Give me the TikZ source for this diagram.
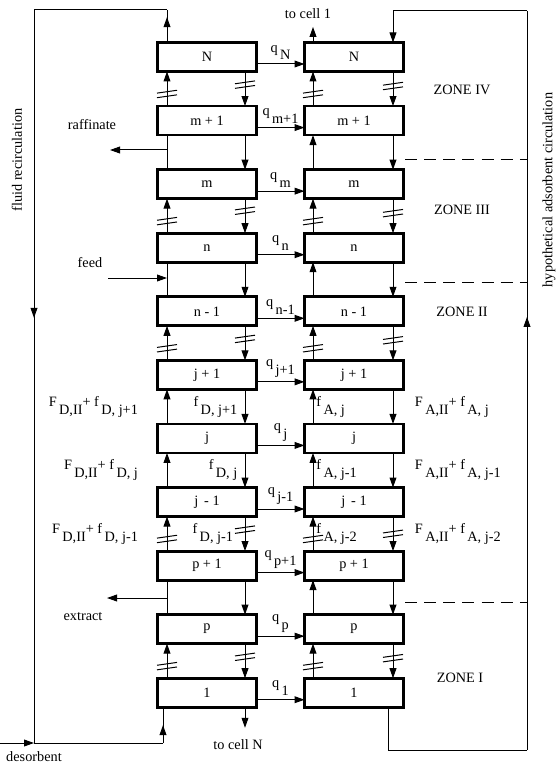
\documentclass[tikz,border=0pt]{standalone}
\usepackage{fontspec}
\setmainfont{Liberation Serif}
\usetikzlibrary{arrows.meta,positioning,decorations.markings}

\newcommand{\lsub}[2]{#1\,\raisebox{-0.55em}{#2}}

\begin{document}
\begin{tikzpicture}[
    x=0.7pt, y=-0.7pt,
    node distance=24.2pt and 33.6pt,
    cell/.style={
        draw,
        line width=2pt,
        outer sep=0pt,
        minimum width=69.3pt,
        minimum height=20.3pt
    },
    flowline/.style={line width=0.7pt},
    arrow/.style={flowline, -{Triangle[length=7pt,width=4.8pt]}},
    midarrow/.style={
        flowline,
        decoration={markings,
            mark=at position #1 with {\arrow{Triangle[length=7pt,width=4.8pt]}}},
        postaction={decorate}
    },
    zoneline/.style={line width=0.7pt, dash pattern=on 8.4pt off 5pt},
    qlabel/.style={above, inner sep=2.5pt},
    sidelabel/.style={inner sep=0pt},
    brkmark/.pic={
        \draw[-, solid, line width=0.7pt] (-7pt,-2.6pt) -- (7pt,-0.6pt)
            (-7pt,0.6pt) -- (7pt,2.6pt);
    }
]
\useasboundingbox (0,0) rectangle (558,767);

% adsorbent cells (left) and fluid cells (right)
\node[cell] (lN) at (207,57) {N};
\node[cell, below=of lN] (lmp) {m + 1};
\node[cell, below=of lmp] (lm) {m};
\node[cell, below=of lm] (ln) {n};
\node[cell, below=of ln] (lnm) {n - 1};
\node[cell, below=of lnm] (ljp) {j + 1};
\node[cell, below=of ljp] (lj) {j};
\node[cell, below=of lj] (ljm) {j \,- 1};
\node[cell, below=of ljm] (lpp) {p + 1};
\node[cell, below=of lpp] (lp) {p};
\node[cell, below=of lp] (lone) {1};

\node[cell, right=of lN] (rN) {N};
\node[cell, right=of lmp] (rmp) {m + 1};
\node[cell, right=of lm] (rm) {m};
\node[cell, right=of ln] (rn) {n};
\node[cell, right=of lnm] (rnm) {n - 1};
\node[cell, right=of ljp] (rjp) {j + 1};
\node[cell, right=of lj] (rj) {j};
\node[cell, right=of ljm] (rjm) {j \,- 1};
\node[cell, right=of lpp] (rpp) {p + 1};
\node[cell, right=of lp] (rp) {p};
\node[cell, right=of lone] (rone) {1};

\coordinate (upL) at (167,0);
\coordinate (dnL) at (245,0);
\coordinate (upR) at (313,0);
\coordinate (dnR) at (393,0);

% transfer between the two columns
\draw[arrow] ([yshift=-4.9pt]lN.east) -- node[qlabel] {\lsub{q}{N}} ([yshift=-4.9pt]rN.west);
\draw[arrow] ([yshift=-4.9pt]lmp.east) -- node[qlabel] {\lsub{q}{m+1}} ([yshift=-4.9pt]rmp.west);
\draw[arrow] ([yshift=-4.9pt]lm.east) -- node[qlabel] {\lsub{q}{m}} ([yshift=-4.9pt]rm.west);
\draw[arrow] ([yshift=-4.9pt]ln.east) -- node[qlabel] {\lsub{q}{n}} ([yshift=-4.9pt]rn.west);
\draw[arrow] ([yshift=-4.9pt]lnm.east) -- node[qlabel] {\lsub{q}{n-1}} ([yshift=-4.9pt]rnm.west);
\draw[arrow] ([yshift=-4.9pt]ljp.east) -- node[qlabel] {\lsub{q}{j+1}} ([yshift=-4.9pt]rjp.west);
\draw[arrow] ([yshift=-4.9pt]lj.east) -- node[qlabel] {\lsub{q}{j}} ([yshift=-4.9pt]rj.west);
\draw[arrow] ([yshift=-4.9pt]ljm.east) -- node[qlabel] {\lsub{q}{j-1}} ([yshift=-4.9pt]rjm.west);
\draw[arrow] ([yshift=-4.9pt]lpp.east) -- node[qlabel] {\lsub{q}{p+1}} ([yshift=-4.9pt]rpp.west);
\draw[arrow] ([yshift=-4.9pt]lp.east) -- node[qlabel] {\lsub{q}{p}} ([yshift=-4.9pt]rp.west);
\draw[arrow] ([yshift=-4.9pt]lone.east) -- node[qlabel] {\lsub{q}{1}} ([yshift=-4.9pt]rone.west);

% N / m+1
\draw[arrow] (lmp.north -| upL) -- pic[pos=0.35] {brkmark} (lN.south -| upL);
\draw[arrow] (lN.south -| dnL) -- pic[pos=0.38] {brkmark} (lmp.north -| dnL);
\draw[arrow] (rmp.north -| upR) -- pic[pos=0.35] {brkmark} (rN.south -| upR);
\draw[arrow] (rN.south -| dnR) -- pic[pos=0.42] {brkmark} (rmp.north -| dnR);
% m+1 / m
\draw[flowline] (lm.north -| upL) -- (lmp.south -| upL);
\draw[arrow] (lmp.south -| dnL) -- (lm.north -| dnL);
\draw[arrow] (rm.north -| upR) -- (rmp.south -| upR);
\draw[arrow] (rmp.south -| dnR) -- (rm.north -| dnR);
% m / n
\draw[arrow] (ln.north -| upL) -- pic[pos=0.35] {brkmark} (lm.south -| upL);
\draw[arrow] (lm.south -| dnL) -- pic[pos=0.35] {brkmark} (ln.north -| dnL);
\draw[arrow] (rn.north -| upR) -- pic[pos=0.35] {brkmark} (rm.south -| upR);
\draw[arrow] (rm.south -| dnR) -- pic[pos=0.42] {brkmark} (rn.north -| dnR);
% n / n-1
\draw[flowline] (lnm.north -| upL) -- (ln.south -| upL);
\draw[arrow] (ln.south -| dnL) -- (lnm.north -| dnL);
\draw[arrow] (rnm.north -| upR) -- (rn.south -| upR);
\draw[arrow] (rn.south -| dnR) -- (rnm.north -| dnR);
% n-1 / j+1
\draw[arrow] (ljp.north -| upL) -- pic[pos=0.35] {brkmark} (lnm.south -| upL);
\draw[arrow] (lnm.south -| dnL) -- pic[pos=0.38] {brkmark} (ljp.north -| dnL);
\draw[arrow] (rjp.north -| upR) -- pic[pos=0.35] {brkmark} (rnm.south -| upR);
\draw[arrow] (rnm.south -| dnR) -- pic[pos=0.42] {brkmark} (rjp.north -| dnR);
% j+1 / j
\draw[arrow] (lj.north -| upL) -- node[sidelabel, left=20pt] {\lsub{F}{D,II}+ \lsub{f}{D, j+1}} (ljp.south -| upL);
\draw[arrow] (ljp.south -| dnL) -- node[sidelabel, left=5pt] {\lsub{f}{D, j+1}} (lj.north -| dnL);
\draw[arrow] (rj.north -| upR) -- node[sidelabel, right=2pt] {\lsub{f}{A, j}} (rjp.south -| upR);
\draw[arrow] (rjp.south -| dnR) -- node[sidelabel, right=15pt] {\lsub{F}{A,II}+ \lsub{f}{A, j}} (rj.north -| dnR);
% j / j-1
\draw[arrow] (ljm.north -| upL) -- node[sidelabel, left=20pt] {\lsub{F}{D,II}+ \lsub{f}{D, j}} (lj.south -| upL);
\draw[arrow] (lj.south -| dnL) -- node[sidelabel, left=5pt] {\lsub{f}{D, j}} (ljm.north -| dnL);
\draw[arrow] (rjm.north -| upR) -- node[sidelabel, right=2pt] {\lsub{f}{A, j-1}} (rj.south -| upR);
\draw[arrow] (rj.south -| dnR) -- node[sidelabel, right=15pt] {\lsub{F}{A,II}+ \lsub{f}{A, j-1}} (rjm.north -| dnR);
% j-1 / p+1
\draw[arrow] (lpp.north -| upL) -- pic[pos=0.35] {brkmark} node[sidelabel, left=20pt] {\lsub{F}{D,II}+ \lsub{f}{D, j-1}} (ljm.south -| upL);
\draw[arrow] (ljm.south -| dnL) -- pic[pos=0.38] {brkmark} node[sidelabel, left=8pt] {\lsub{f}{D, j-1}} (lpp.north -| dnL);
\draw[arrow] (rpp.north -| upR) -- pic[pos=0.35] {brkmark} node[sidelabel, right=2pt] {\lsub{f}{A, j-2}} (rjm.south -| upR);
\draw[arrow] (rjm.south -| dnR) -- pic[pos=0.5] {brkmark} node[sidelabel, right=15pt] {\lsub{F}{A,II}+ \lsub{f}{A, j-2}} (rpp.north -| dnR);
% p+1 / p
\draw[flowline] (lp.north -| upL) -- (lpp.south -| upL);
\draw[arrow] (lpp.south -| dnL) -- (lp.north -| dnL);
\draw[arrow] (rp.north -| upR) -- (rpp.south -| upR);
\draw[arrow] (rpp.south -| dnR) -- (rp.north -| dnR);
% p / 1
\draw[arrow] (lone.north -| upL) -- pic[pos=0.35] {brkmark} (lp.south -| upL);
\draw[arrow] (lp.south -| dnL) -- pic[pos=0.38] {brkmark} (lone.north -| dnL);
\draw[arrow] (rone.north -| upR) -- pic[pos=0.35] {brkmark} (rp.south -| upR);
\draw[arrow] (rp.south -| dnR) -- pic[pos=0.42] {brkmark} (rone.north -| dnR);

% side streams
\node (raffinate) at (92,125) {raffinate};
\coordinate (raffjct) at (167,150);
\coordinate (raffend) at (110,150);
\draw[arrow] (raffjct) -- (raffend);

\node (feed) at (90,263) {feed};
\coordinate (feedstart) at (108,278);
\coordinate (feedjct) at (167,278);
\draw[arrow] (feedstart) -- (feedjct);

\node (extract) at (83,617) {extract};
\coordinate (extjct) at (167,598);
\coordinate (extend) at (107,598);
\draw[arrow] (extjct) -- (extend);

\node (tocellone) at (308,14) {to cell 1};
\draw[arrow, shorten >=2pt] (rN.north -| upR) -- (tocellone.south -| upR);
\node (tocellN) at (238,745) {to cell N};
\draw[arrow, shorten >=5pt] (lone.south -| dnL) -- (tocellN.north -| dnL);

% fluid recirculation loop
\node (desorbent) at (34,757) {desorbent};
\coordinate (fluidtop) at (167,10);
\coordinate (fluidcorner) at (34,10);
\coordinate (fluidbot) at (34,743);
\coordinate (desin) at (0,743);
\coordinate (desturn) at (163,743);
\draw[midarrow=0.78] (lN.north -| upL) -- (fluidtop);
\draw[flowline] (fluidtop) -- (fluidcorner);
\draw[midarrow=0.42] (fluidcorner) -- (fluidbot);
\draw[flowline] (fluidbot) -- (desturn);
\draw[midarrow=0.5] (desturn) -- (lone.south -| desturn);
\draw[arrow] (desin) -- (fluidbot);
\node[rotate=90] (fluidlabel) at (17,160) {fluid recirculation};

% adsorbent circulation loop
\coordinate (adstopL) at (393,11);
\coordinate (adstopR) at (527,11);
\coordinate (adsbotR) at (527,750);
\coordinate (adsbotL) at (388,750);
\draw[flowline] (rone.south -| adsbotL) -- (adsbotL) -- (adsbotR);
\draw[midarrow=0.586] (adsbotR) -- (adstopR);
\draw[arrow] (adstopR) -- (adstopL) -- (rN.north -| dnR);
\node[rotate=90] (adslabel) at (549,190) {hypothetical adsorbent circulation};

% zones
\draw[zoneline] (405,160) -- (527,160);
\draw[zoneline] (405,282) -- (527,282);
\draw[zoneline] (405,602) -- (527,602);
\node (zonefour) at (462,90) {ZONE IV};
\node (zonethree) at (462,210) {ZONE III};
\node (zonetwo) at (462,312) {ZONE II};
\node (zoneone) at (460,678) {ZONE I};
\end{tikzpicture}
\end{document}
